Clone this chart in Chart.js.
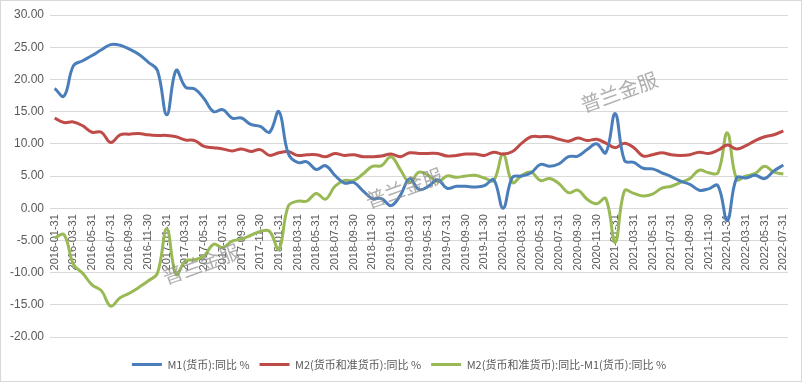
<!DOCTYPE html>
<html>
<head>
<meta charset="utf-8">
<script src="https://cdn.jsdelivr.net/npm/chart.js@4.4.0/dist/chart.umd.min.js"></script>
<style>
  html, body { margin: 0; padding: 0; background: #fff; }
  #wrap { width: 803px; height: 383px; position: relative; }
</style>
</head>
<body>
<div id="wrap"><canvas id="moneyChart"></canvas></div>
<script>
// month-end dates, 2016-01 .. 2022-07
const dates = [];
for (let y = 2016; y <= 2022; y++) {
    for (let m = 1; m <= 12; m++) {
        if (y === 2022 && m > 7) break;
        const last = new Date(Date.UTC(y, m, 0)).getUTCDate();
        dates.push(y + '-' + String(m).padStart(2, '0') + '-' + last);
    }
}

const m1Yoy = [
    18.6, 17.4, 22.1, 22.9, 23.7, 24.6, 25.4, 25.3, 24.7, 23.9, 22.7, 21.4,
    14.5, 21.4, 18.8, 18.5, 17.0, 15.0, 15.3, 14.0, 14.0, 13.0, 12.7, 11.8,
    15.0, 8.5, 7.1, 7.2, 6.0, 6.6, 5.1, 3.9, 4.0, 2.7, 1.5, 1.5,
    0.4, 2.0, 4.6, 2.9, 3.4, 4.4, 3.1, 3.4, 3.4, 3.3, 3.5, 4.4,
    0.0, 4.8, 5.0, 5.5, 6.8, 6.5, 6.9, 8.0, 8.1, 9.1, 10.0, 8.6,
    14.7, 7.4, 7.1, 6.2, 6.1, 5.5, 4.9, 4.2, 3.7, 2.8, 3.0, 3.5,
    -1.9, 4.7, 4.7, 5.1, 4.6, 5.8, 6.7
];

const m2Yoy = [
    14.0, 13.3, 13.4, 12.8, 11.8, 11.8, 10.2, 11.4, 11.5, 11.6, 11.4, 11.3,
    11.3, 11.1, 10.6, 10.5, 9.6, 9.4, 9.2, 8.9, 9.2, 8.8, 9.1, 8.2,
    8.6, 8.8, 8.2, 8.3, 8.3, 8.0, 8.5, 8.2, 8.3, 8.0, 8.0, 8.1,
    8.4, 8.0, 8.6, 8.5, 8.5, 8.5, 8.1, 8.2, 8.4, 8.4, 8.2, 8.7,
    8.4, 8.8, 10.1, 11.1, 11.1, 11.1, 10.7, 10.4, 10.9, 10.5, 10.7, 10.1,
    9.4, 10.1, 9.4, 8.1, 8.3, 8.6, 8.3, 8.2, 8.3, 8.7, 8.5, 9.0,
    9.8, 9.2, 9.7, 10.5, 11.1, 11.4, 12.0
];

const spread = [
    -4.6, -4.1, -8.7, -10.1, -11.9, -12.8, -15.2, -13.9, -13.2, -12.3, -11.3, -10.1,
    -3.2, -10.3, -8.2, -8.0, -7.4, -5.6, -6.1, -5.1, -4.8, -4.2, -3.6, -3.6,
    -6.4, 0.3, 1.1, 1.1, 2.3, 1.4, 3.4, 4.3, 4.3, 5.3, 6.5, 6.6,
    8.0, 6.0, 4.0, 5.6, 5.1, 4.1, 5.0, 4.8, 5.0, 5.1, 4.7, 4.3,
    8.4, 4.0, 5.1, 5.6, 4.3, 4.6, 3.8, 2.4, 2.8, 1.4, 0.7, 1.5,
    -5.3, 2.7, 2.3, 1.9, 2.2, 3.1, 3.4, 4.0, 4.6, 5.9, 5.5, 5.5,
    11.7, 4.5, 5.0, 5.4, 6.5, 5.6, 5.3
];

const seriesNames = [
    'M1(货币):同比 %',
    'M2(货币和准货币):同比 %',
    'M2(货币和准货币):同比-M1(货币):同比 %'
];

const textColor = '#595959';
const gridColor = '#d9d9d9';

// watermark + outer frame
const decorations = {
    id: 'decorations',
    afterDraw(chart) {
        const ctx = chart.ctx;
        ctx.save();
        ctx.font = '20px "Noto Sans CJK SC"';
        ctx.fillStyle = 'rgba(140,140,140,0.7)';
        ctx.textAlign = 'center';
        ctx.textBaseline = 'middle';
        [[619, 92], [404, 188], [201, 264]].forEach(([x, y]) => {
            ctx.save();
            ctx.translate(x, y);
            ctx.rotate(-20 * Math.PI / 180);
            ctx.fillText('普兰金服', 0, 0);
            ctx.restore();
        });
        ctx.strokeStyle = gridColor;
        ctx.lineWidth = 1;
        ctx.strokeRect(0.5, 0.5, 801, 381);
        ctx.restore();
    }
};

const ctx = document.getElementById('moneyChart').getContext('2d');
new Chart(ctx, {
    type: 'line',
    data: {
        labels: dates,
        datasets: [{
            label: seriesNames[0],
            data: m1Yoy,
            borderColor: '#4a7ebb',
            backgroundColor: '#4a7ebb'
        },
        {
            label: seriesNames[1],
            data: m2Yoy,
            borderColor: '#be4b48',
            backgroundColor: '#be4b48'
        },
        {
            label: seriesNames[2],
            data: spread,
            borderColor: '#98b954',
            backgroundColor: '#98b954'
        }]
    },
    options: {
        responsive: true,
        maintainAspectRatio: false,
        animation: false,
        devicePixelRatio: 1,
        layout: {
            padding: { left: 10, right: 15, top: 15, bottom: 3 }
        },
        elements: {
            line: { borderWidth: 3, tension: 0.4, fill: false },
            // point borderWidth only feeds the legend line thickness
            point: { radius: 0, hoverRadius: 0, borderWidth: 3 }
        },
        scales: {
            x: {
                type: 'category',
                position: { y: 0 },
                offset: true,
                grid: { display: false, drawTicks: false },
                border: { display: false },
                ticks: {
                    autoSkip: false,
                    minRotation: 90,
                    maxRotation: 90,
                    padding: 6,
                    color: textColor,
                    font: { family: 'Liberation Sans', size: 11 },
                    callback: function (v, i) {
                        return i % 2 === 0 ? this.getLabelForValue(v) : '';
                    }
                }
            },
            x2: {
                type: 'category',
                labels: dates,
                position: 'bottom',
                grid: { display: false, drawTicks: false },
                border: { display: false },
                ticks: { display: false },
                afterFit: s => { s.height = 12; }
            },
            y: {
                min: -20,
                max: 30,
                grid: { color: gridColor, drawTicks: false },
                border: { display: false },
                ticks: {
                    stepSize: 5,
                    padding: 6,
                    color: textColor,
                    font: { family: 'Liberation Sans', size: 12 },
                    callback: v => v.toFixed(2)
                },
                afterFit: s => { s.width = 40; }
            }
        },
        plugins: {
            tooltip: { enabled: false },
            legend: {
                position: 'bottom',
                labels: {
                    usePointStyle: true,
                    pointStyle: 'line',
                    pointStyleWidth: 30,
                    padding: 10,
                    color: textColor,
                    font: { family: 'Noto Sans CJK SC', size: 11 }
                }
            }
        }
    },
    plugins: [decorations]
});
</script>
</body>
</html>
